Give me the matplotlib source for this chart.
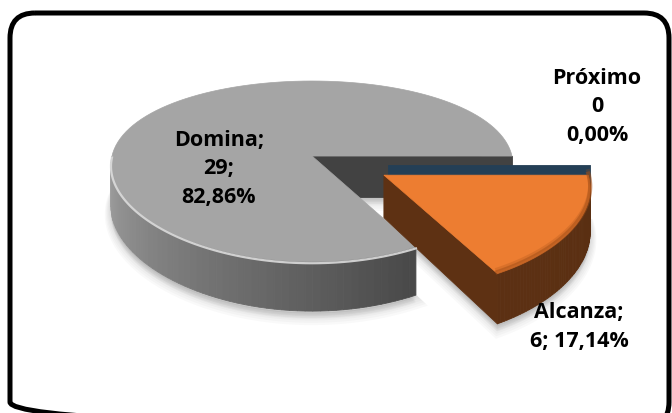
import numpy as np
import matplotlib.pyplot as plt
from matplotlib.patches import Polygon, FancyBboxPatch

plt.rcParams['font.family'] = ['Open Sans', 'DejaVu Sans']

# datos
categorias = ['Domina', 'Alcanza', 'Próximo']
valores = [29, 6, 0]
colores_sup = ['#a5a5a5', '#ed7d31', '#264a6b']
colores_corte = ['#424242', '#5e3113', '#243f56']
explode = [0.0, 0.41, 0.39]
giro_explode = [0, 0, -15]   # grados, la porcion de valor 0 no tiene bisectriz

total = sum(valores)
porcentajes = [v / total * 100 for v in valores]
angulos = np.concatenate([[0], np.cumsum(valores)]) / total * 360

# geometria del pastel 3D (en pixeles)
CX, CY = 312, 157
RX, RY, H = 200, 87.75, 41
PX, PY = 0.10, 0.17


def proj(x, y, z):
    x = np.atleast_1d(np.asarray(x, float))
    y = np.atleast_1d(np.asarray(y, float))
    sx = CX + RX * x / (1 + PX * y)
    sy = CY - (RY * y + H * z) / (1 + PY * y)
    return np.column_stack([sx, sy])


def arco(a0, a1, ox, oy, z, n=120):
    th = np.radians(np.linspace(a0, a1, n))
    return proj(ox + np.cos(th), oy + np.sin(th), z)


fig = plt.figure(figsize=(6.72, 4.14), dpi=100)
ax = fig.add_axes([0, 0, 1, 1])
ax.set_xlim(0, 672)
ax.set_ylim(414, 0)
ax.axis('off')

rebanadas = []
for i in range(len(valores)):
    a0, a1 = angulos[i], angulos[i + 1]
    mid = np.radians((a0 + a1) / 2 + giro_explode[i])
    ox, oy = explode[i] * np.cos(mid), explode[i] * np.sin(mid)
    rebanadas.append((i, a0, a1, ox, oy))

# sombra suave bajo el pastel
for i, a0, a1, ox, oy in rebanadas:
    if a1 - a0 <= 0:
        continue
    base = np.vstack([proj(ox, oy, -1), arco(a0, a1, ox, oy, -1)])
    for k in range(1, 7):
        ax.add_patch(Polygon(base + [0, k * 1.3], closed=True, fc='black',
                             ec='black', lw=k * 1.5, alpha=0.025, zorder=1))

# de atras hacia adelante
for i, a0, a1, ox, oy in sorted(rebanadas, key=lambda r: -r[4]):
    # pared exterior visible (frente)
    s0, s1 = max(a0, 180), min(a1, 360)
    if s1 > s0:
        pasos = np.linspace(s0, s1, 60)
        for t0, t1 in zip(pasos[:-1], pasos[1:]):
            arr = arco(t0, t1, ox, oy, 0, 3)
            abj = arco(t1, t0, ox, oy, -1, 3)
            f = (0.5 * (t0 + t1) - 180) / 180
            if i == 0:
                g = 0.64 - 0.36 * min(f / 0.66, 1)
                c = (g, g, g)
            else:
                base_c = np.array([0x5e, 0x31, 0x13]) / 255
                c = tuple(base_c * (1.05 - 0.1 * f))
            ax.add_patch(Polygon(np.vstack([arr, abj]), closed=True, fc=c,
                                 ec=c, lw=0.6, zorder=2))
    # caras de corte que miran al observador
    for a, visible in ((a0, np.cos(np.radians(a0)) > 0),
                       (a1, np.cos(np.radians(a1)) < 0)):
        if not visible:
            continue
        ca, sa = np.cos(np.radians(a)), np.sin(np.radians(a))
        cara = np.vstack([proj(ox, oy, 0), proj(ox + ca, oy + sa, 0),
                          proj(ox + ca, oy + sa, -1), proj(ox, oy, -1)])
        ax.add_patch(Polygon(cara, closed=True, fc=colores_corte[i],
                             ec=colores_corte[i], lw=0.6, zorder=2,
                             joinstyle='round'))
    # cara superior
    if a1 - a0 > 0:
        sup = np.vstack([proj(ox, oy, 0), arco(a0, a1, ox, oy, 0)])
        ax.add_patch(Polygon(sup, closed=True, fc=colores_sup[i],
                             ec=colores_sup[i], lw=0.5, zorder=2))
        if s1 > s0:
            borde = arco(s0, s1, ox, oy, 0)
            if i == 0:
                ax.plot(borde[:, 0], borde[:, 1] + 1.5, color='#dcdcdc',
                        lw=1.6, alpha=0.9, zorder=3)
            else:
                for k, al in ((1.5, 0.5), (4, 0.25)):
                    ax.plot(borde[:, 0], borde[:, 1] - k, color='#a34f18',
                            lw=3, alpha=al, zorder=3)

# etiquetas
def fmt(p):
    return f'{p:.2f}'.replace('.', ',')

etiquetas = [
    f'{categorias[0]};\n{valores[0]};\n{fmt(porcentajes[0])}%',
    f'{categorias[1]};\n{valores[1]}; {fmt(porcentajes[1])}%',
    f'{categorias[2]}\n{valores[2]}\n{fmt(porcentajes[2])}%',
]
pos_etiquetas = [(219, 169), (579, 327), (597, 107)]
for txt, (x, y) in zip(etiquetas, pos_etiquetas):
    ax.text(x, y, txt, ha='center', va='center', fontsize=15.5,
            fontweight='bold', linespacing=1.45, color='black', zorder=5)

# marco redondeado (se sale por abajo)
ax.add_patch(FancyBboxPatch((10, 14), 659, 414,
                            boxstyle='round,pad=0,rounding_size=25',
                            fill=False, ec='black', lw=3.6, zorder=6,
                            clip_on=False))

fig.savefig('out.png', dpi=100)
